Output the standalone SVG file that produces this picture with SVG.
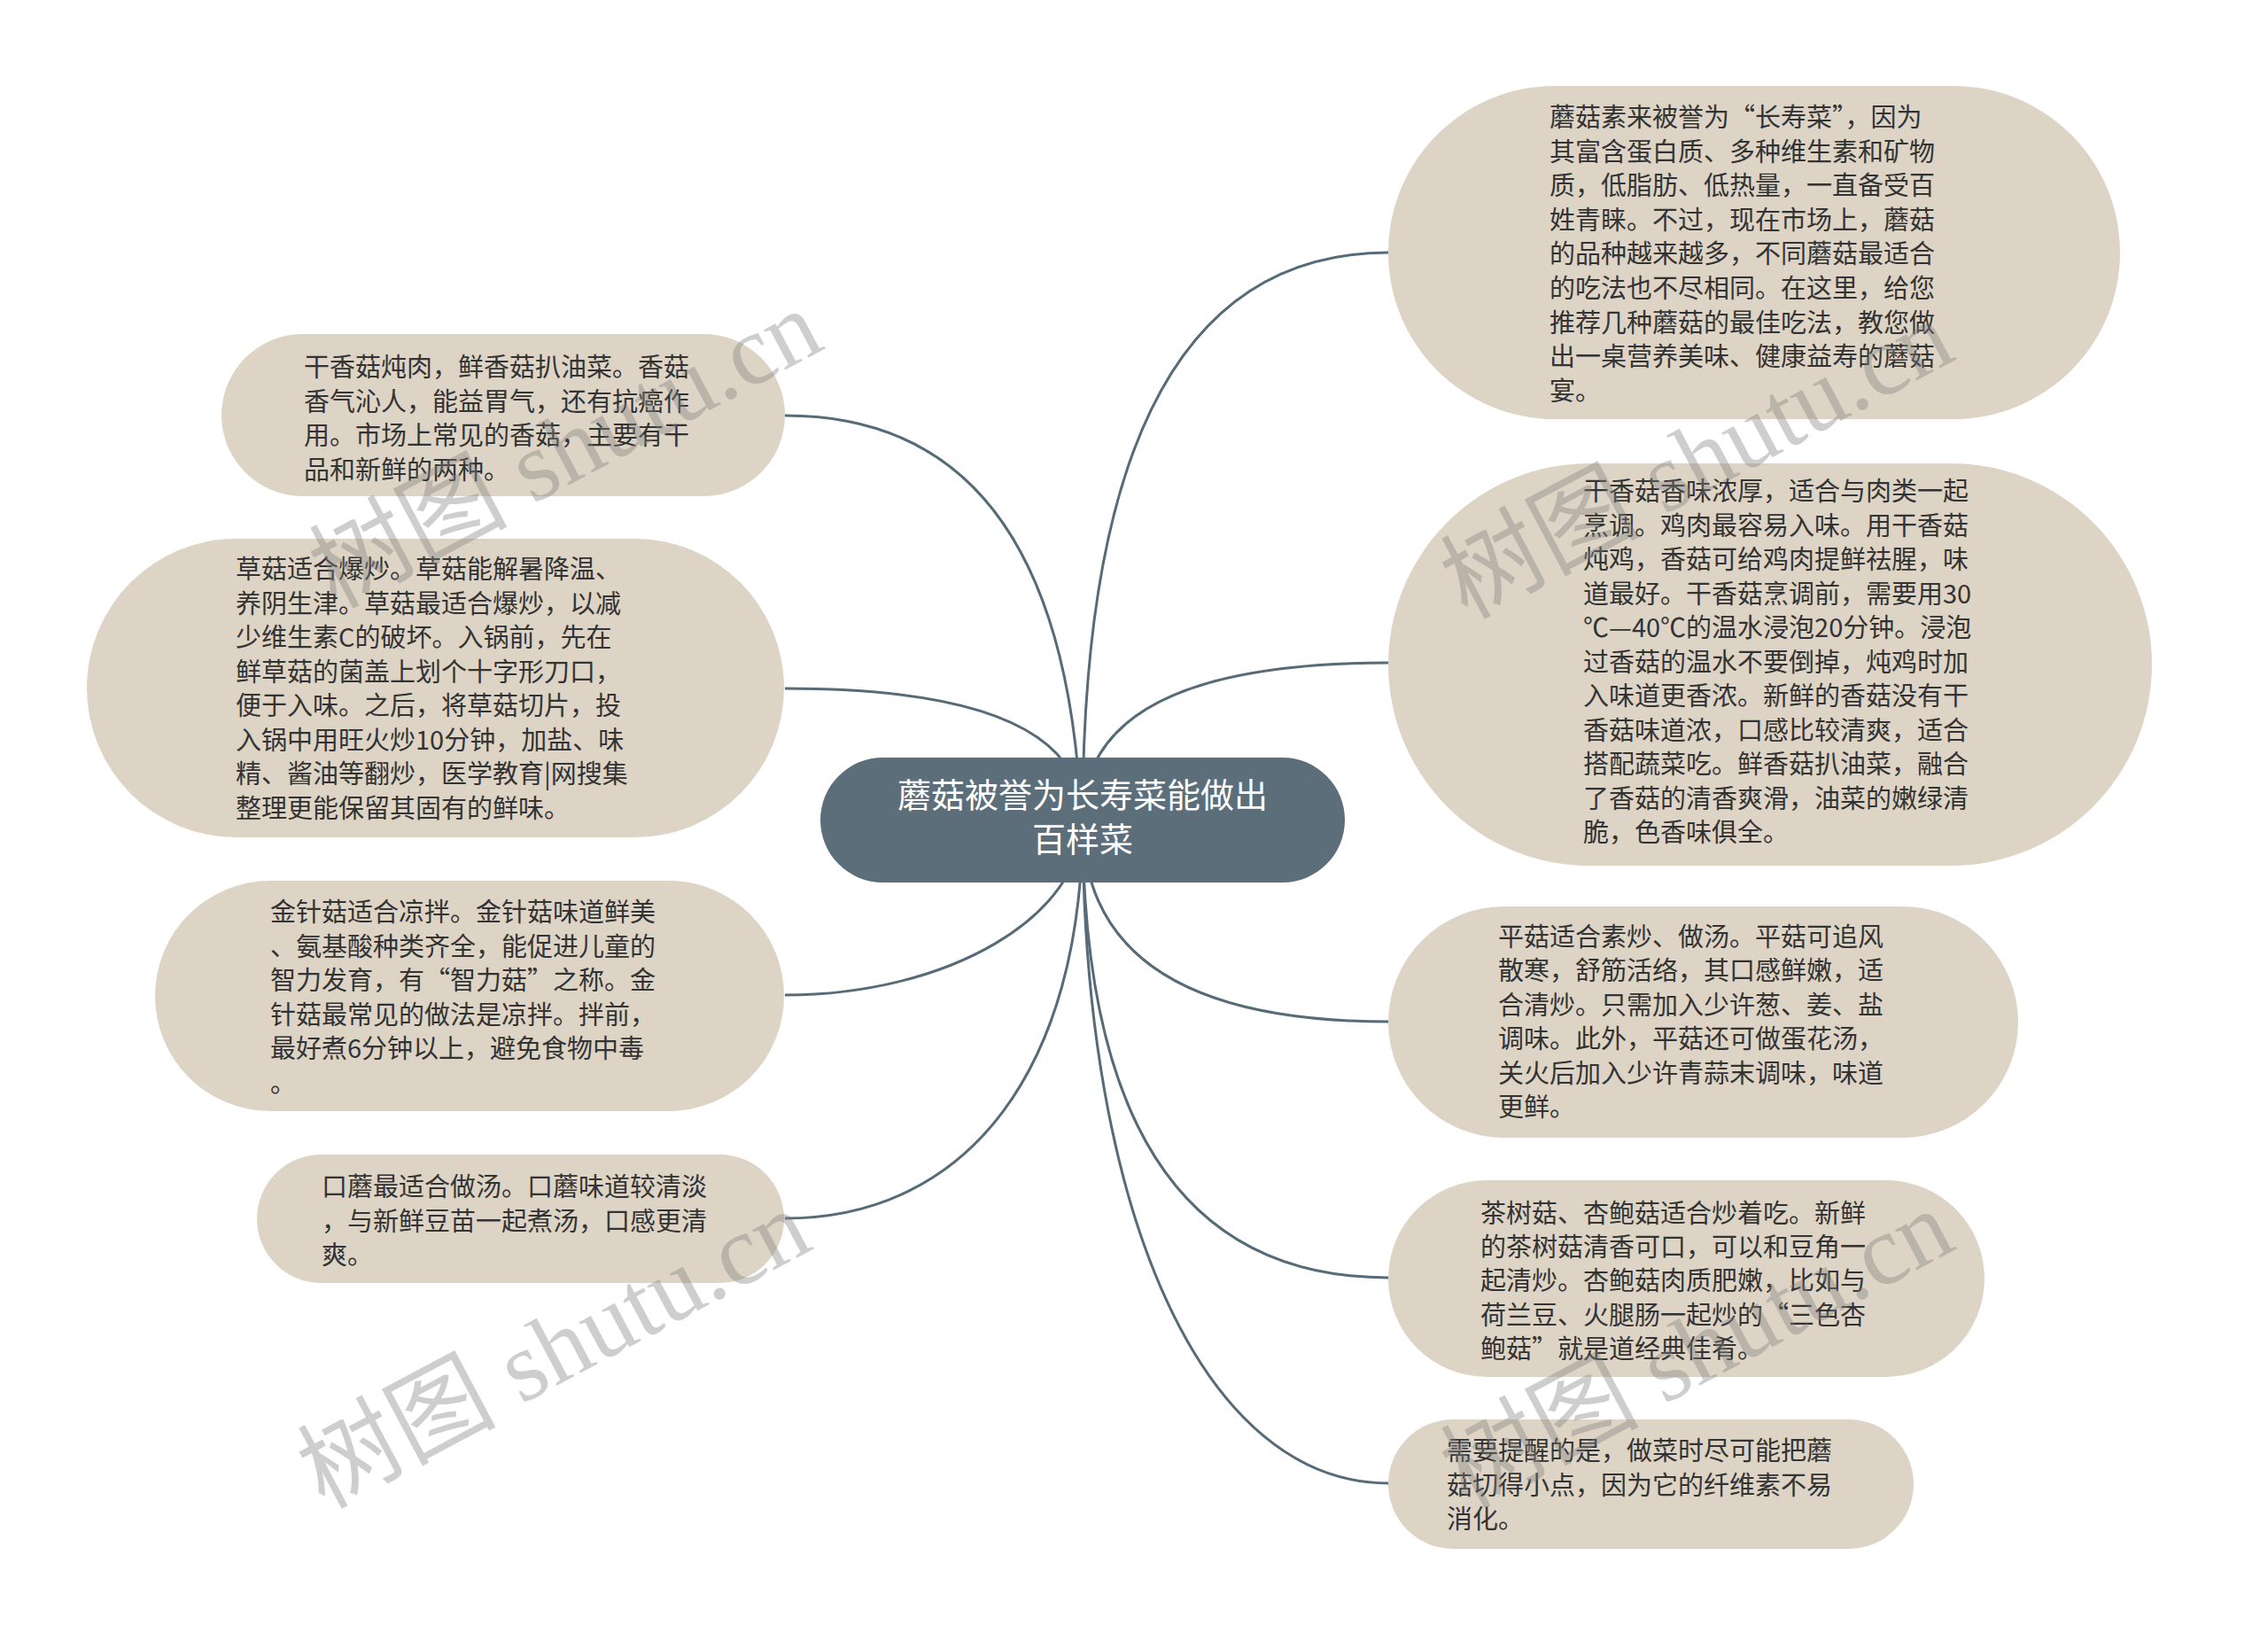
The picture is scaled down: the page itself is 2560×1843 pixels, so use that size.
<svg xmlns="http://www.w3.org/2000/svg" width="2560" height="1843" viewBox="0 0 2560 1843">
<style>
.bg{fill:#ffffff}
.node{fill:#ddd4c5}
.root{fill:#5b6e7a}
.t{font-family:"Noto Sans CJK SC","Noto Sans",sans-serif;font-size:29px;fill:#333333}
.rt{font-family:"Noto Sans CJK SC","Noto Sans",sans-serif;font-size:38px;fill:#ffffff;text-anchor:middle}
.edge{fill:none;stroke:#566b78;stroke-width:3}
.wm{font-family:"Liberation Serif","Noto Sans CJK SC",serif;font-size:112px;fill:#808080;opacity:0.38;text-anchor:middle}
</style>
<rect class="bg" x="0" y="0" width="2560" height="1843"/>
<g id="connectors">
<path class="edge" d="M1222 990 Q1222 469 886 469"/>
<path class="edge" d="M1222 925 Q1222 777 886 777"/>
<path class="edge" d="M1222 925 C1222 1034 1071 1123 886 1123"/>
<path class="edge" d="M1222 925 C1222 1204 1094 1375 886 1375"/>
<path class="edge" d="M1222 925 Q1222 285 1567 285"/>
<path class="edge" d="M1222 925 Q1222 748 1567 748"/>
<path class="edge" d="M1222 925 Q1222 1153 1567 1153"/>
<path class="edge" d="M1222 925 Q1222 1442 1567 1442"/>
<path class="edge" d="M1222 925 C1222 1374 1360 1674 1567 1674"/>
</g>
<g id="root">
<rect class="root" x="926" y="855" width="592" height="141" rx="70.5"/>
<text class="rt"><tspan x="1222" y="911">蘑菇被誉为长寿菜能做出</tspan><tspan x="1222" y="961">百样菜</tspan></text>
</g>
<g id="n-l1">
<rect class="node" x="250" y="377" width="636" height="183" rx="91.5"/>
<text class="t"><tspan x="343" y="425">干香菇炖肉，鲜香菇扒油菜。香菇</tspan><tspan x="343" dy="38.5">香气沁人，能益胃气，还有抗癌作</tspan><tspan x="343" dy="38.5">用。市场上常见的香菇，主要有干</tspan><tspan x="343" dy="38.5">品和新鲜的两种。</tspan></text>
</g>
<g id="n-l2">
<rect class="node" x="98" y="608" width="787" height="337" rx="168.5"/>
<text class="t"><tspan x="266" y="653">草菇适合爆炒。草菇能解暑降温、</tspan><tspan x="266" dy="38.5">养阴生津。草菇最适合爆炒，以减</tspan><tspan x="266" dy="38.5">少维生素C的破坏。入锅前，先在</tspan><tspan x="266" dy="38.5">鲜草菇的菌盖上划个十字形刀口，</tspan><tspan x="266" dy="38.5">便于入味。之后，将草菇切片，投</tspan><tspan x="266" dy="38.5">入锅中用旺火炒10分钟，加盐、味</tspan><tspan x="266" dy="38.5">精、酱油等翻炒，医学教育|网搜集</tspan><tspan x="266" dy="38.5">整理更能保留其固有的鲜味。</tspan></text>
</g>
<g id="n-l3">
<rect class="node" x="175" y="994" width="710" height="260" rx="130"/>
<text class="t"><tspan x="305" y="1040">金针菇适合凉拌。金针菇味道鲜美</tspan><tspan x="305" dy="38.5">、氨基酸种类齐全，能促进儿童的</tspan><tspan x="305" dy="38.5">智力发育，有“智力菇”之称。金</tspan><tspan x="305" dy="38.5">针菇最常见的做法是凉拌。拌前，</tspan><tspan x="305" dy="38.5">最好煮6分钟以上，避免食物中毒</tspan><tspan x="305" dy="38.5">。</tspan></text>
</g>
<g id="n-l4">
<rect class="node" x="290" y="1303" width="595" height="145" rx="72.5"/>
<text class="t"><tspan x="363" y="1350">口蘑最适合做汤。口蘑味道较清淡</tspan><tspan x="363" dy="38.5">，与新鲜豆苗一起煮汤，口感更清</tspan><tspan x="363" dy="38.5">爽。</tspan></text>
</g>
<g id="n-r1">
<rect class="node" x="1567" y="97" width="826" height="376" rx="188"/>
<text class="t"><tspan x="1749" y="143">蘑菇素来被誉为“长寿菜”，因为</tspan><tspan x="1749" dy="38.6">其富含蛋白质、多种维生素和矿物</tspan><tspan x="1749" dy="38.6">质，低脂肪、低热量，一直备受百</tspan><tspan x="1749" dy="38.6">姓青睐。不过，现在市场上，蘑菇</tspan><tspan x="1749" dy="38.6">的品种越来越多，不同蘑菇最适合</tspan><tspan x="1749" dy="38.6">的吃法也不尽相同。在这里，给您</tspan><tspan x="1749" dy="38.6">推荐几种蘑菇的最佳吃法，教您做</tspan><tspan x="1749" dy="38.6">出一桌营养美味、健康益寿的蘑菇</tspan><tspan x="1749" dy="38.6">宴。</tspan></text>
</g>
<g id="n-r2">
<rect class="node" x="1567" y="523" width="862" height="454" rx="227"/>
<text class="t"><tspan x="1787" y="565">干香菇香味浓厚，适合与肉类一起</tspan><tspan x="1787" dy="38.5">烹调。鸡肉最容易入味。用干香菇</tspan><tspan x="1787" dy="38.5">炖鸡，香菇可给鸡肉提鲜祛腥，味</tspan><tspan x="1787" dy="38.5">道最好。干香菇烹调前，需要用30</tspan><tspan x="1787" dy="38.5">℃—40℃的温水浸泡20分钟。浸泡</tspan><tspan x="1787" dy="38.5">过香菇的温水不要倒掉，炖鸡时加</tspan><tspan x="1787" dy="38.5">入味道更香浓。新鲜的香菇没有干</tspan><tspan x="1787" dy="38.5">香菇味道浓，口感比较清爽，适合</tspan><tspan x="1787" dy="38.5">搭配蔬菜吃。鲜香菇扒油菜，融合</tspan><tspan x="1787" dy="38.5">了香菇的清香爽滑，油菜的嫩绿清</tspan><tspan x="1787" dy="38.5">脆，色香味俱全。</tspan></text>
</g>
<g id="n-r3">
<rect class="node" x="1567" y="1023" width="711" height="261" rx="130.5"/>
<text class="t"><tspan x="1691" y="1068">平菇适合素炒、做汤。平菇可追风</tspan><tspan x="1691" dy="38.4">散寒，舒筋活络，其口感鲜嫩，适</tspan><tspan x="1691" dy="38.4">合清炒。只需加入少许葱、姜、盐</tspan><tspan x="1691" dy="38.4">调味。此外，平菇还可做蛋花汤，</tspan><tspan x="1691" dy="38.4">关火后加入少许青蒜末调味，味道</tspan><tspan x="1691" dy="38.4">更鲜。</tspan></text>
</g>
<g id="n-r4">
<rect class="node" x="1567" y="1332" width="673" height="222" rx="111"/>
<text class="t"><tspan x="1671" y="1380">茶树菇、杏鲍菇适合炒着吃。新鲜</tspan><tspan x="1671" dy="38.2">的茶树菇清香可口，可以和豆角一</tspan><tspan x="1671" dy="38.2">起清炒。杏鲍菇肉质肥嫩，比如与</tspan><tspan x="1671" dy="38.2">荷兰豆、火腿肠一起炒的“三色杏</tspan><tspan x="1671" dy="38.2">鲍菇”就是道经典佳肴。</tspan></text>
</g>
<g id="n-r5">
<rect class="node" x="1567" y="1602" width="593" height="146" rx="73"/>
<text class="t"><tspan x="1633" y="1648">需要提醒的是，做菜时尽可能把蘑</tspan><tspan x="1633" dy="38.5">菇切得小点，因为它的纤维素不易</tspan><tspan x="1633" dy="38.5">消化。</tspan></text>
</g>
<g id="watermarks">
<text class="wm" transform="translate(656 540) rotate(-28)">树图 shutu.cn</text>
<text class="wm" transform="translate(1933 552) rotate(-28)">树图 shutu.cn</text>
<text class="wm" transform="translate(643 1556) rotate(-28)">树图 shutu.cn</text>
<text class="wm" transform="translate(1933 1556) rotate(-28)">树图 shutu.cn</text>
</g>
</svg>
